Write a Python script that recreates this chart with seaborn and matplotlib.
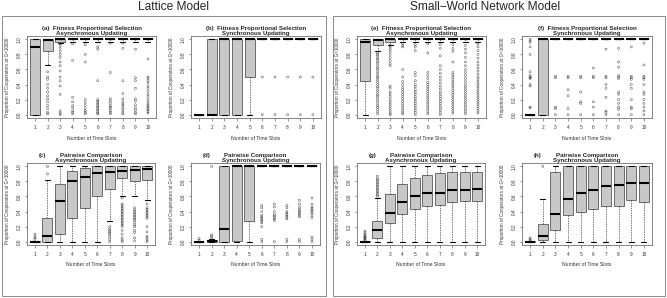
import numpy as np
import pandas as pd
import matplotlib
matplotlib.use("Agg")
import matplotlib.pyplot as plt
from matplotlib.patches import Rectangle
import seaborn as sns

sns.set_style("ticks")
plt.rcParams["font.family"] = ["Liberation Sans", "DejaVu Sans"]

# box summaries: whisker low, q1, median, q3, whisker high
slots = list(range(1, 11))

a_lo = [0.0, 0.66, 0.95, 0.97, 0.97, 0.97, 0.97, 0.97, 0.97, 0.97]
a_q1 = [0.0, 0.85, 0.97, 1.0, 1.0, 1.0, 1.0, 1.0, 1.0, 1.0]
a_med = [0.9, 0.99, 1.0, 1.0, 1.0, 1.0, 1.0, 1.0, 1.0, 1.0]
a_q3 = [1.0] * 10
a_hi = [1.0] * 10
a_out = [
    [],
    [0.57, 0.5, 0.47, 0.4, 0.35, 0.3, 0.25, 0.21, 0.17, 0.12, 0.08, 0.03, 0.01],
    [0.94, 0.92, 0.88, 0.84, 0.8, 0.76, 0.7, 0.65, 0.58, 0.5, 0.45, 0.38, 0.27, 0.05, 0.02, 0.0],
    [0.94, 0.72, 0.23, 0.17, 0.12, 0.09, 0.05, 0.03, 0.01],
    [0.93, 0.8, 0.7, 0.2, 0.16, 0.12, 0.08, 0.05, 0.03, 0.01],
    [0.9, 0.87, 0.45, 0.2, 0.18, 0.16, 0.14, 0.12, 0.1, 0.08, 0.06, 0.04, 0.02, 0.01],
    [0.95, 0.56, 0.21, 0.18, 0.15, 0.12, 0.1, 0.08, 0.05, 0.03, 0.01],
    [0.95, 0.88, 0.45, 0.28, 0.21, 0.17, 0.14, 0.12, 0.09, 0.06, 0.03, 0.01],
    [0.87, 0.49, 0.45, 0.35, 0.21, 0.18, 0.13, 0.09, 0.06, 0.03, 0.01],
    [0.74, 0.5, 0.48, 0.45, 0.42, 0.38, 0.35, 0.31, 0.27, 0.24, 0.2, 0.17, 0.14, 0.12, 0.1, 0.08, 0.06, 0.04, 0.02],
]

b_lo = [0.0, 0.0, 0.0, 0.0, 0.0, 1.0, 1.0, 1.0, 1.0, 1.0]
b_q1 = [0.0, 0.0, 0.0, 0.0, 0.5, 1.0, 1.0, 1.0, 1.0, 1.0]
b_med = [0.0, 0.0, 1.0, 1.0, 1.0, 1.0, 1.0, 1.0, 1.0, 1.0]
b_q3 = [0.0, 1.0, 1.0, 1.0, 1.0, 1.0, 1.0, 1.0, 1.0, 1.0]
b_hi = [0.0, 1.0, 1.0, 1.0, 1.0, 1.0, 1.0, 1.0, 1.0, 1.0]
b_out = [[], [], [], [], [], [0.5, 0.0], [0.5, 0.0], [0.5, 0.0], [0.5, 0.0], [0.5, 0.0]]

c_lo = [0.0, 0.0, 0.0, 0.0, 0.0, 0.0, 0.28, 0.6, 0.6, 0.55]
c_q1 = [0.0, 0.0, 0.1, 0.32, 0.45, 0.6, 0.7, 0.84, 0.81, 0.82]
c_med = [0.0, 0.07, 0.54, 0.8, 0.86, 0.91, 0.93, 0.94, 0.95, 0.96]
c_q3 = [0.005, 0.32, 0.77, 0.94, 0.98, 1.0, 1.0, 1.0, 1.0, 1.0]
c_hi = [0.01, 0.82, 1.0, 1.0, 1.0, 1.0, 1.0, 1.0, 1.0, 1.0]
c_out = [
    [0.03, 0.05, 0.07, 0.1],
    [0.9, 1.0],
    [], [], [], [],
    [0.2, 0.17, 0.15, 0.13, 0.11, 0.09, 0.06, 0.03, 0.0],
    [0.58, 0.5, 0.48, 0.46, 0.44, 0.42, 0.4, 0.38, 0.36, 0.34, 0.32, 0.3, 0.28, 0.26, 0.24, 0.22, 0.2, 0.15, 0.1, 0.05, 0.02, 0.0],
    [0.45, 0.42, 0.4, 0.38, 0.36, 0.34, 0.32, 0.3, 0.28, 0.25, 0.22, 0.2, 0.15, 0.12, 0.05, 0.01],
    [0.5, 0.45, 0.43, 0.41, 0.39, 0.37, 0.35, 0.33, 0.31, 0.2, 0.13, 0.07, 0.05, 0.02, 0.0],
]

d_lo = [0.0, 0.0, 0.0, 0.0, 0.0, 1.0, 1.0, 1.0, 1.0, 1.0]
d_q1 = [0.0, 0.0, 0.0, 0.01, 0.28, 1.0, 1.0, 1.0, 1.0, 1.0]
d_med = [0.0, 0.005, 0.17, 1.0, 1.0, 1.0, 1.0, 1.0, 1.0, 1.0]
d_q3 = [0.0, 0.02, 1.0, 1.0, 1.0, 1.0, 1.0, 1.0, 1.0, 1.0]
d_hi = [0.0, 0.03, 1.0, 1.0, 1.0, 1.0, 1.0, 1.0, 1.0, 1.0]
d_out = [
    [0.02, 0.04],
    [0.05, 0.07, 0.09, 1.0],
    [], [], [],
    [0.48, 0.45, 0.4, 0.35, 0.33, 0.31, 0.29, 0.27, 0.25, 0.2, 0.03, 0.0],
    [0.5, 0.46, 0.4, 0.36, 0.34, 0.32, 0.3, 0.28, 0.0],
    [0.48, 0.45, 0.4, 0.38, 0.36, 0.34, 0.32, 0.3, 0.03, 0.0],
    [0.55, 0.5, 0.46, 0.43, 0.41, 0.39, 0.37, 0.35, 0.33, 0.03, 0.0],
    [0.58, 0.5, 0.46, 0.44, 0.42, 0.4, 0.38, 0.35, 0.32, 0.06, 0.03, 0.0],
]

e_lo = [0.0, 0.84, 0.93, 0.96, 0.96, 0.96, 0.96, 0.96, 0.96, 0.96]
e_q1 = [0.45, 0.93, 0.97, 1.0, 1.0, 1.0, 1.0, 1.0, 1.0, 1.0]
e_med = [0.96, 0.99, 1.0, 1.0, 1.0, 1.0, 1.0, 1.0, 1.0, 1.0]
e_q3 = [1.0] * 10
e_hi = [1.0] * 10
e_out = [
    [],
    [0.82, 0.8, 0.78, 0.75, 0.73, 0.7, 0.68, 0.65, 0.62, 0.6, 0.57, 0.54, 0.51, 0.49, 0.46, 0.43, 0.4,
     0.37, 0.35, 0.32, 0.29, 0.26, 0.24, 0.21, 0.18, 0.15, 0.12, 0.1, 0.07, 0.04, 0.01],
    [0.92, 0.9, 0.87, 0.84, 0.8, 0.76, 0.72, 0.68, 0.65, 0.38, 0.35, 0.3, 0.27, 0.24, 0.2, 0.17, 0.14,
     0.11, 0.08, 0.05, 0.02, 0.0],
    [0.95, 0.92, 0.9, 0.6, 0.5, 0.44, 0.4, 0.36, 0.33, 0.3, 0.27, 0.24, 0.21, 0.18, 0.15, 0.12, 0.09,
     0.06, 0.03, 0.01],
    [0.93, 0.9, 0.85, 0.56, 0.52, 0.45, 0.4, 0.37, 0.33, 0.3, 0.27, 0.24, 0.21, 0.18, 0.15, 0.12, 0.09,
     0.06, 0.03, 0.0],
    [0.94, 0.82, 0.56, 0.52, 0.48, 0.43, 0.4, 0.37, 0.34, 0.31, 0.28, 0.25, 0.22, 0.19, 0.16, 0.13, 0.1,
     0.07, 0.04, 0.01],
    [0.93, 0.88, 0.78, 0.65, 0.6, 0.55, 0.5, 0.46, 0.42, 0.38, 0.34, 0.3, 0.27, 0.24, 0.21, 0.18, 0.15,
     0.12, 0.09, 0.06, 0.03, 0.0],
    [0.93, 0.88, 0.84, 0.7, 0.56, 0.53, 0.5, 0.47, 0.44, 0.41, 0.38, 0.35, 0.32, 0.29, 0.26, 0.23, 0.2,
     0.17, 0.14, 0.11, 0.08, 0.05, 0.02],
    [0.92, 0.87, 0.82, 0.76, 0.7, 0.65, 0.6, 0.56, 0.52, 0.48, 0.44, 0.4, 0.37, 0.34, 0.31, 0.28, 0.25,
     0.22, 0.19, 0.16, 0.13, 0.1, 0.07, 0.04, 0.01],
    [0.94, 0.9, 0.85, 0.8, 0.75, 0.7, 0.66, 0.62, 0.58, 0.54, 0.5, 0.47, 0.44, 0.41, 0.38, 0.35, 0.32,
     0.29, 0.26, 0.23, 0.2, 0.17, 0.14, 0.11, 0.08, 0.05, 0.02],
]

f_lo = [0.0, 0.0, 1.0, 1.0, 1.0, 1.0, 1.0, 1.0, 1.0, 1.0]
f_q1 = [0.0, 0.0, 1.0, 1.0, 1.0, 1.0, 1.0, 1.0, 1.0, 1.0]
f_med = [0.0, 1.0, 1.0, 1.0, 1.0, 1.0, 1.0, 1.0, 1.0, 1.0]
f_q3 = [0.0, 1.0, 1.0, 1.0, 1.0, 1.0, 1.0, 1.0, 1.0, 1.0]
f_hi = [0.0, 1.0, 1.0, 1.0, 1.0, 1.0, 1.0, 1.0, 1.0, 1.0]
f_out = [
    [1.0, 0.98, 0.96, 0.9, 0.8, 0.57, 0.52, 0.5, 0.49, 0.48, 0.4, 0.38, 0.1, 0.09],
    [],
    [0.51, 0.49, 0.1, 0.08, 0.0],
    [0.51, 0.49, 0.33, 0.25, 0.08, 0.0],
    [0.51, 0.49, 0.3, 0.17, 0.15, 0.0],
    [0.62, 0.51, 0.49, 0.17, 0.1, 0.0],
    [0.87, 0.51, 0.49, 0.4, 0.35, 0.23, 0.05, 0.03, 0.0],
    [0.88, 0.7, 0.63, 0.52, 0.5, 0.48, 0.3, 0.27, 0.2, 0.15, 0.1, 0.07, 0.0],
    [0.9, 0.51, 0.49, 0.47, 0.4, 0.35, 0.2, 0.1, 0.08, 0.0],
    [0.95, 0.66, 0.51, 0.49, 0.47, 0.4, 0.3, 0.27, 0.2, 0.15, 0.1, 0.05, 0.0],
]

g_lo = [0.0] * 10
g_q1 = [0.0, 0.05, 0.25, 0.37, 0.44, 0.48, 0.49, 0.52, 0.54, 0.54]
g_med = [0.0, 0.16, 0.38, 0.52, 0.6, 0.64, 0.64, 0.68, 0.69, 0.7]
g_q3 = [0.005, 0.27, 0.63, 0.77, 0.85, 0.89, 0.91, 0.92, 0.93, 0.93]
g_hi = [0.01, 0.58, 1.0, 1.0, 1.0, 1.0, 1.0, 1.0, 1.0, 1.0]
g_out = [
    [0.02, 0.03, 0.04, 0.05, 0.06, 0.07, 0.08, 0.1, 0.12, 0.14],
    [0.6, 0.62, 0.64, 0.66, 0.68, 0.7, 0.72, 0.74, 0.76, 0.78, 0.8, 0.82, 0.84, 0.87],
    [], [], [], [], [], [], [], [],
]

h_lo = [0.0] * 10
h_q1 = [0.0, 0.02, 0.16, 0.35, 0.39, 0.44, 0.47, 0.48, 0.55, 0.53]
h_med = [0.0, 0.07, 0.37, 0.56, 0.65, 0.69, 0.74, 0.75, 0.78, 0.78]
h_q3 = [0.005, 0.24, 0.92, 1.0, 1.0, 1.0, 1.0, 1.0, 1.0, 1.0]
h_hi = [0.01, 0.56, 1.0, 1.0, 1.0, 1.0, 1.0, 1.0, 1.0, 1.0]
h_out = [[0.02, 0.03, 0.05], [1.0], [], [], [], [], [], [], [], []]

W, H = 667, 298
fig = plt.figure(figsize=(W / 100, H / 100), dpi=100)

BOX = "#c8c8c8"
EDGE = "#3c3c3c"

# (tag, title line 1, title line 2, summaries, outliers, left, top, right, bottom) in pixels
panels = [
    ("(a)", "Fitness Proportional Selection", "Asynchronous Updating",
     (a_lo, a_q1, a_med, a_q3, a_hi), a_out, 27, 36, 156, 118),
    ("(b)", "Fitness Proportional Selection", "Synchronous Updating",
     (b_lo, b_q1, b_med, b_q3, b_hi), b_out, 191, 36, 321, 118),
    ("(c)", "Pairwise Comparison", "Asynchronous Updating",
     (c_lo, c_q1, c_med, c_q3, c_hi), c_out, 27, 163, 155, 245),
    ("(d)", "Pairwise Comparison", "Synchronous Updating",
     (d_lo, d_q1, d_med, d_q3, d_hi), d_out, 191, 163, 320, 245),
    ("(e)", "Fitness Proportional Selection", "Asynchronous Updating",
     (e_lo, e_q1, e_med, e_q3, e_hi), e_out, 357, 36, 486, 118),
    ("(f)", "Fitness Proportional Selection", "Synchronous Updating",
     (f_lo, f_q1, f_med, f_q3, f_hi), f_out, 522, 36, 652, 118),
    ("(g)", "Pairwise Comparison", "Asynchronous Updating",
     (g_lo, g_q1, g_med, g_q3, g_hi), g_out, 357, 163, 485, 245),
    ("(h)", "Pairwise Comparison", "Synchronous Updating",
     (h_lo, h_q1, h_med, h_q3, h_hi), h_out, 522, 163, 652, 245),
]

for tag, t1, t2, summ, outs, l, t, r, b in panels:
    ax = fig.add_axes([l / W, 1 - b / H, (r - l) / W, (b - t) / H])
    wpx, hpx = r - l, b - t

    df = pd.DataFrame({
        "slot": np.repeat(slots, 5),
        "value": np.column_stack(summ).ravel(),
    })
    sns.boxplot(data=df, x="slot", y="value", order=slots, whis=(0, 100),
                showfliers=False, width=0.8, color=BOX, saturation=1,
                linecolor=EDGE, linewidth=0.5,
                medianprops=dict(color="black", linewidth=1.5, solid_capstyle="butt"),
                whiskerprops=dict(color=EDGE, linewidth=0.5, linestyle=(0, (2.0, 1.5))),
                capprops=dict(color="black", linewidth=0.8),
                ax=ax)

    odf = pd.DataFrame({
        "slot": [s for s, vals in zip(slots, outs) for v in vals],
        "value": [v for vals in outs for v in vals],
    })
    sns.stripplot(data=odf, x="slot", y="value", order=slots, jitter=False,
                  size=1.5, color="white", edgecolor="#333333", linewidth=0.3, ax=ax)
    for coll in ax.collections:
        coll.set_facecolor("none")

    ax.set_xlim(-0.64, 9.64)
    ax.set_ylim(-0.045, 1.045)
    ax.set_yticks([0.0, 0.2, 0.4, 0.6, 0.8, 1.0])
    ax.set_yticklabels(["0.0", "0.2", "0.4", "0.6", "0.8", "1.0"], rotation=90, va="center")
    ax.tick_params(axis="both", length=1.8, width=0.4, labelsize=3.4, color="#444444",
                   labelcolor="#333333")
    ax.tick_params(axis="x", pad=3.0)
    ax.tick_params(axis="y", pad=2.0)
    for sp in ax.spines.values():
        sp.set_color("#555555")
        sp.set_linewidth(0.5)

    ax.set_xlabel("Number of Time Slots", fontsize=3.7, color="#333333")
    ax.set_ylabel("Proportion of Cooperators at G=10000", fontsize=3.3, color="#333333")
    ax.xaxis.set_label_coords(0.5, -17.5 / hpx)
    ax.yaxis.set_label_coords(-17 / wpx, 0.5)

    if t1.startswith("Fitness"):
        ax.text(0.5, 1 + 7.5 / hpx, tag + "  " + t1, transform=ax.transAxes,
                ha="center", va="center", fontsize=4.4, fontweight="bold")
    else:
        ax.text(0.12, 1 + 7.5 / hpx, tag, transform=ax.transAxes,
                ha="center", va="center", fontsize=4.4, fontweight="bold")
        ax.text(0.5, 1 + 7.5 / hpx, t1, transform=ax.transAxes,
                ha="center", va="center", fontsize=4.4, fontweight="bold")
    ax.text(0.5, 1 + 2.6 / hpx, t2, transform=ax.transAxes,
            ha="center", va="center", fontsize=4.4, fontweight="bold")

# outer frames and model titles
for x0, x1 in [(2, 326), (333, 665)]:
    fig.add_artist(Rectangle((x0 / W, 1 - 296 / H), (x1 - x0) / W, 280 / H,
                             transform=fig.transFigure, fill=False,
                             edgecolor="#777777", linewidth=0.6))
fig.text(173 / W, 1 - 6.5 / H, "Lattice Model", ha="center", va="center", fontsize=8.6)
fig.text(485 / W, 1 - 6.5 / H, "Small\u2212World Network Model", ha="center", va="center",
         fontsize=8.6)

fig.savefig("out.png", dpi=100)
